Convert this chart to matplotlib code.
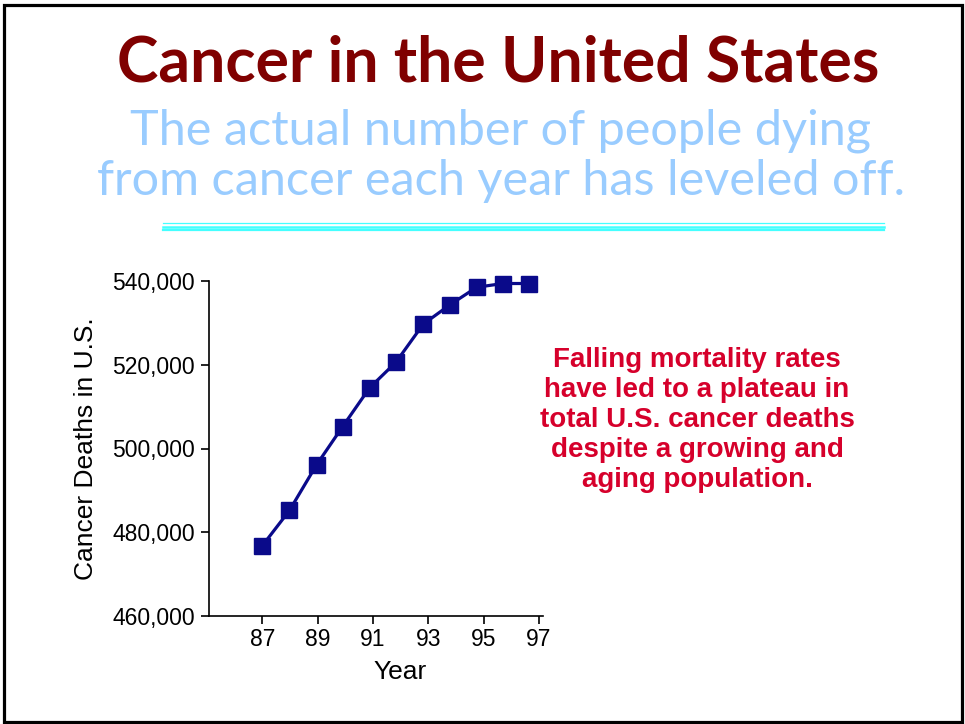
import numpy as np
import matplotlib
matplotlib.use("Agg")
import matplotlib.pyplot as plt
from matplotlib.lines import Line2D
from matplotlib.patches import Rectangle

# data (year positions as plotted, deaths)
years = [87.0, 87.98, 88.96, 89.9, 90.88, 91.83, 92.82, 93.78, 94.75, 95.7, 96.66]
deaths = [476800, 485200, 496100, 505200, 514500, 520600, 529700, 534300, 538500, 539400, 539400]
xticks = [87, 89, 91, 93, 95, 97]
yticks = [460000, 480000, 500000, 520000, 540000]

title = "Cancer in the United States"
subtitle = ["The actual number of people dying", "from cancer each year has leveled off."]
note = ("Falling mortality rates\nhave led to a plateau in\ntotal U.S. cancer deaths\n"
        "despite a growing and\naging population.")

W, H = 965, 724
fig = plt.figure(figsize=(W / 100, H / 100), dpi=100)
fig.patch.set_facecolor("white")

# outer frame
fig.add_artist(Rectangle((3.5 / W, 1 - 721.5 / H), 958 / W, 717 / H,
                         transform=fig.transFigure, fill=False, lw=2.3, ec="black"))

fig.text(498 / W, 1 - 64 / H, title, ha="center", va="center",
         fontsize=45, fontweight="bold", color="#800000", family="Lato")
fig.text(501 / W, 1 - 131 / H, subtitle[0], ha="center", va="center",
         fontsize=35, color="#99ccff", family="Lato")
fig.text(501 / W, 1 - 181 / H, subtitle[1], ha="center", va="center",
         fontsize=35, color="#99ccff", family="Lato")

# cyan rule under the heading
for yy, lw in [(223, 0.9), (226.5, 1.8), (230, 1.6)]:
    fig.add_artist(Line2D([163 / W, 884 / W], [1 - yy / H, 1 - yy / H],
                          transform=fig.transFigure, color="#44ffff", lw=lw))

ax = fig.add_axes([209 / W, 1 - 616 / H, 334 / W, 335 / H])
ax.plot(years, deaths, color="#0a0a8a", lw=2.3, marker="s", ms=12,
        clip_on=False, zorder=3)
ax.set_xlim(85.07, 97.15)
ax.set_ylim(460000, 540000)
ax.set_xticks(xticks)
ax.set_xticklabels([str(t) for t in xticks])
ax.set_yticks(yticks)
ax.set_yticklabels([f"{v:,}" for v in yticks])
for s in ["top", "right"]:
    ax.spines[s].set_visible(False)
for s in ["left", "bottom"]:
    ax.spines[s].set_linewidth(1.2)
ax.tick_params(direction="out", length=6, width=1.2, labelsize=16.5)
ax.tick_params(axis="x", pad=3)
ax.tick_params(axis="y", pad=4)
for lab in ax.get_xticklabels() + ax.get_yticklabels():
    lab.set_family("Liberation Sans")
ax.set_xlabel("Year", fontsize=19, family="Liberation Sans", labelpad=8)
ax.xaxis.set_label_coords((400 - 209) / 334, -0.13)
ax.set_ylabel("Cancer Deaths in U.S.", fontsize=19, family="Liberation Sans", labelpad=10)

fig.text(697 / W, 1 - 420 / H, note, ha="center", va="center", fontsize=20,
         fontweight="bold", color="#d6002b", family="Liberation Sans", linespacing=1.2)

fig.savefig("out.png", dpi=100)
